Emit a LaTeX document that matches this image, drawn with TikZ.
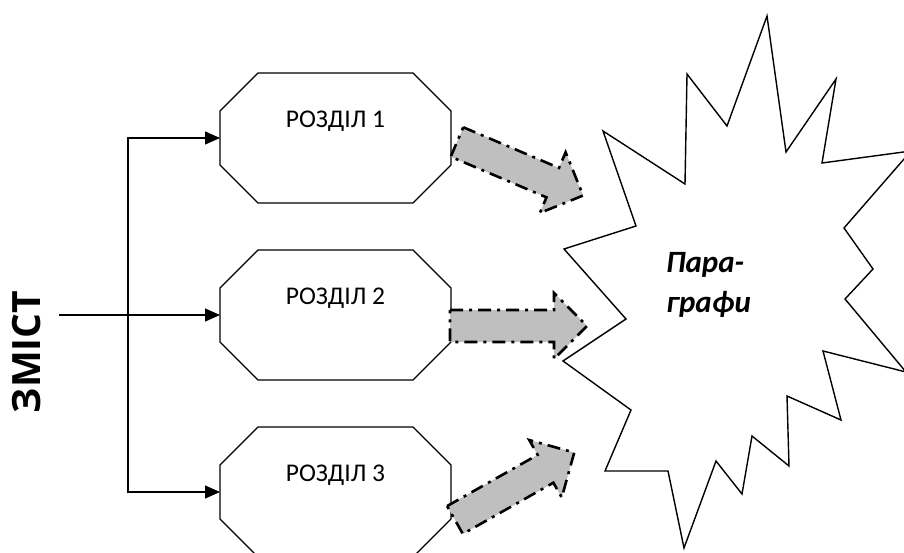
\documentclass[tikz,border=0pt]{standalone}
\usepackage{fontspec}
\setmainfont{Carlito}
\newfontfamily\zmistfont{Open Sans}
\usetikzlibrary{positioning,calc,arrows.meta}

\begin{document}
\begin{tikzpicture}[x=1pt,y=-1pt,every node/.style={outer sep=0pt,inner sep=0pt},]

\tikzstyle{razdil}=[draw=none,minimum width=231pt,minimum height=130pt]
\tikzstyle{rtext}=[font=\fontsize{25.5}{30}\selectfont]
\tikzstyle{flow}=[line width=1.3pt,-{Triangle[length=15pt,width=13pt]}]
\tikzstyle{blok}=[line width=2.6pt,fill=gray!50,dash pattern=on 13pt off 6pt on 3pt off 6pt]
\tikzstyle{burst}=[line width=1.4pt,line join=miter]

\tikzset{blokarr/.pic={
  \draw [blok] (0,-16) -- (104,-16) -- (104,-33) -- (137,0) -- (104,33) -- (104,16) -- (0,16) -- cycle;
}}

\useasboundingbox (0,0) rectangle (904,553);
\clip (0,0) rectangle (904,553);

% rozdily
\node (s1) [razdil] at (335.5,138) {};
\node (s2) [razdil, below=47pt of s1] {};
\node (s3) [razdil, below=47pt of s2] {};

\foreach \s in {s1,s2,s3}
  \draw [line width=1.3pt] ($(\s.north west)+(38pt,0pt)$) -- ($(\s.north east)+(-38pt,0pt)$) -- ($(\s.north east)+(0pt,-38pt)$) -- ($(\s.south east)+(0pt,38pt)$) -- ($(\s.south east)+(-38pt,0pt)$) -- ($(\s.south west)+(38pt,0pt)$) -- ($(\s.south west)+(0pt,38pt)$) -- ($(\s.north west)+(0pt,-38pt)$) -- cycle;

\node (s1t) [rtext] at ([yshift=17pt]s1.center) {РОЗДІЛ 1};
\node (s2t) [rtext] at ([yshift=17pt]s2.center) {РОЗДІЛ 2};
\node (s3t) [rtext] at ([yshift=17pt]s3.center) {РОЗДІЛ 3};

% zmist
\node (zmist) [rotate=90, font=\zmistfont\bfseries\fontsize{39}{40}\selectfont] at (27,352) {ЗМІСТ};
\coordinate (in) at (59,315);
\coordinate (bus) at (128,315);

\draw [flow] (in) -- (s2.west);
\draw [flow] (bus |- s3.west) |- (s1.west);
\draw [flow] (bus |- s1.west) |- (s3.west);

% paragrafy
\draw [burst] (767,16) -- (786,152) -- (836,79) -- (822,163) -- (911,151) -- (844,228) -- (873,269) -- (845,299) -- (906,372) -- (823,351) -- (841,420) -- (787,396) -- (789,466) -- (752,436) -- (742,494) -- (716,461) -- (684,548) -- (668,471) -- (605,471) -- (631,410) -- (563,361) -- (626,319) -- (564,249) -- (636,226) -- (603,131) -- (685,184) -- (687,74) -- (727,126) -- cycle;

\node (par) [anchor=north west, align=left, font=\bfseries\itshape\fontsize{31}{40}\selectfont] at (666,252) {Пара-\\графи};

\pic [rotate=-23] at ($(s1.east)+(6pt,-4pt)$) {blokarr};
\pic at ($(s2.east)+(-1pt,-11pt)$) {blokarr};
\pic [rotate=29.5] at ($(s3.east)+(4pt,-28pt)$) {blokarr};

\end{tikzpicture}
\end{document}
